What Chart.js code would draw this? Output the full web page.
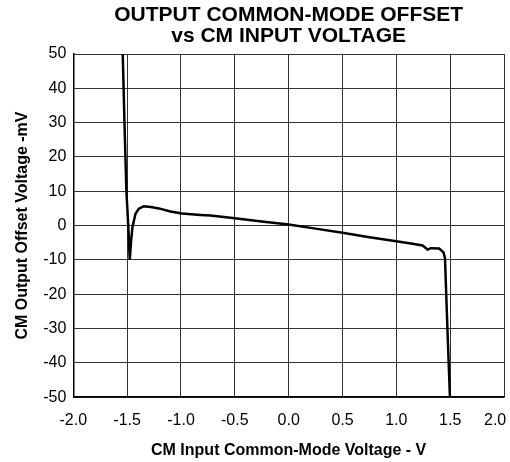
<!DOCTYPE html>
<html>
<head>
<meta charset="utf-8">
<script src="https://cdn.jsdelivr.net/npm/chart.js@4"></script>
<style>
  html, body { margin: 0; padding: 0; background: #fff; }
  #wrap { width: 510px; height: 462px; }
</style>
</head>
<body>
<div id="wrap"><canvas id="cmChart" width="510" height="462"></canvas></div>
<script>
// CM input voltage (V) and output offset (mV)
const cmVolts = [-1.541, -1.525, -1.507, -1.490, -1.476, -1.463, -1.451, -1.423, -1.392, -1.346,
                 -1.280, -1.206, -1.098, -0.990, -0.819, -0.726, -0.500, -0.250, 0.000, 0.250,
                 0.500, 0.750, 1.000, 1.150, 1.244, 1.290, 1.320, 1.398, 1.438, 1.452,
                 1.460, 1.476, 1.498];
const offsetMv = [50, 30, 10, 0, -10, -4.4, -0.5, 3.4, 4.9, 5.6,
                  5.4, 5.0, 4.1, 3.5, 3.1, 2.9, 2.1, 1.2, 0.3, -0.9,
                  -2.1, -3.4, -4.6, -5.3, -5.8, -7.0, -6.6, -6.7, -7.8, -9.5,
                  -16.9, -31.4, -50];

const xTickValues = [-2.0, -1.5, -1.0, -0.5, 0.0, 0.5, 1.0, 1.5, 2.0];
const yTickValues = [-50, -40, -30, -20, -10, 0, 10, 20, 30, 40, 50];

const points = cmVolts.map((v, i) => ({ x: v, y: offsetMv[i] }));
const gridColor = '#333';
const fontFamily = '"Liberation Sans", Arial, sans-serif';

new Chart(document.getElementById('cmChart'), {
    type: 'scatter',
    data: {
        datasets: [{
            data: points,
            showLine: true,
            borderColor: '#000',
            borderWidth: 2.5,
            pointRadius: 0,
            tension: 0
        }]
    },
    options: {
        responsive: false,
        animation: false,
        devicePixelRatio: 1,
        layout: { padding: { left: 12, right: 0, top: 0, bottom: 0 } },
        scales: {
            x: {
                type: 'linear',
                min: -2,
                max: 2,
                afterBuildTicks: s => { s.ticks = xTickValues.map(v => ({ value: v })); },
                afterFit: s => { s.paddingRight = 6; },
                ticks: {
                    color: '#000',
                    padding: 14,
                    font: { family: fontFamily, size: 16 },
                    callback: v => v === 2 ? '2.0\u2007\u2007' : v.toFixed(1)
                },
                grid: { color: gridColor, lineWidth: 1, drawTicks: false },
                border: { color: '#000', width: 1.5 },
                title: {
                    display: true,
                    text: 'CM Input Common-Mode Voltage - V',
                    color: '#000',
                    font: { family: fontFamily, size: 16, weight: 'bold' },
                    padding: { top: -3, bottom: 1.5 }
                }
            },
            y: {
                min: -50,
                max: 50,
                afterBuildTicks: s => { s.ticks = yTickValues.map(v => ({ value: v })); },
                ticks: {
                    color: '#000',
                    padding: 7,
                    font: { family: fontFamily, size: 16 }
                },
                grid: { color: gridColor, lineWidth: 1, drawTicks: false },
                border: { color: '#000', width: 1.5 },
                title: {
                    display: true,
                    text: 'CM Output Offset Voltage -mV',
                    color: '#000',
                    font: { family: fontFamily, size: 16, weight: 'bold' },
                    padding: { top: 0.5, bottom: 4.5 }
                }
            }
        },
        plugins: {
            legend: { display: false },
            tooltip: { enabled: false },
            title: {
                display: true,
                fullSize: false,
                text: ['OUTPUT COMMON-MODE OFFSET', 'vs CM INPUT VOLTAGE'],
                color: '#000',
                font: { family: fontFamily, size: 21, weight: 'bold', lineHeight: 1.0 },
                padding: { top: 5, bottom: 7 },
                align: 'center'
            }
        }
    }
});
</script>
</body>
</html>
